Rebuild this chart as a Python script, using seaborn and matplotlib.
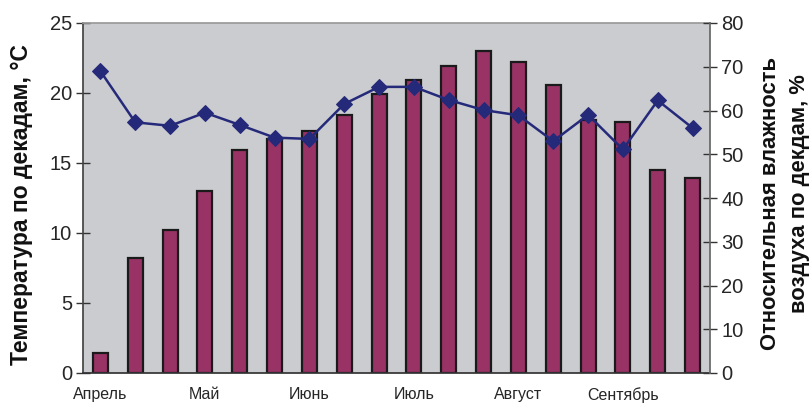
import numpy as np
import pandas as pd
import matplotlib
matplotlib.use("Agg")
import matplotlib.pyplot as plt
import seaborn as sns

# Decade (10-day) averages, April through September
decades = list(range(18))
temperature = [1.4, 8.2, 10.2, 13.0, 15.9, 16.7, 17.3, 18.4, 19.9,
               20.9, 21.9, 23.0, 22.2, 20.6, 18.1, 17.9, 14.5, 13.9]
humidity = [69.0, 57.3, 56.5, 59.5, 56.7, 53.8, 53.5, 61.5, 65.4,
            65.4, 62.4, 60.1, 58.9, 53.0, 59.0, 51.1, 62.3, 56.0]
months = ["Апрель", "Май", "Июнь", "Июль", "Август", "Сентябрь"]
month_pos = [0, 3, 6, 9, 12, 15]

df = pd.DataFrame({"decade": decades, "temp": temperature, "hum": humidity})

sns.set_theme(style="white")
plt.rcParams["font.family"] = ["Liberation Sans", "DejaVu Sans"]

W, H = 810, 408
fig = plt.figure(figsize=(W / 100, H / 100), dpi=100)
ax = fig.add_axes([83 / W, 1 - 373 / H, 627 / W, 350 / H])
ax.set_facecolor("#CBCCCF")

sns.barplot(data=df, x="decade", y="temp", ax=ax, color="#993366",
            width=0.43, edgecolor="#1A1A1A", linewidth=1.6, saturation=1)

ax.set_xlim(-0.5, 17.5)
ax.set_ylim(0, 25)
ax.set_yticks([0, 5, 10, 15, 20, 25])
ax.set_xticks(np.arange(-0.5, 18, 1))
ax.set_xticklabels([])
ax.set_xticks(month_pos, minor=True)
ax.set_xticklabels(months, minor=True, fontsize=11.5)
ax.tick_params(axis="x", which="major", direction="inout", length=7, width=1, color="#333333")
ax.tick_params(axis="x", which="minor", length=0, pad=10)
ax.tick_params(axis="y", direction="inout", length=10, width=1, color="#333333",
               labelsize=14.5, pad=3)
ax.set_xlabel("")
ax.set_ylabel("")

ax.spines["top"].set_color("#9A9A9A")
ax.spines["left"].set_color("#444444")
ax.spines["bottom"].set_color("#333333")
ax.spines["right"].set_visible(False)

ax2 = ax.twinx()
sns.lineplot(data=df, x="decade", y="hum", ax=ax2, color="#25297A",
             marker="D", markersize=8, markeredgecolor="#25297A", linewidth=1.8)
ax2.set_ylim(0, 80)
ax2.set_yticks(range(0, 81, 10))
ax2.set_xlim(-0.5, 17.5)
ax2.tick_params(axis="y", direction="inout", length=10, width=1, color="#333333",
                labelsize=14.5, pad=3, right=True)
ax2.set_ylabel("")
ax2.spines["top"].set_visible(False)
ax2.spines["left"].set_visible(False)
ax2.spines["bottom"].set_visible(False)
ax2.spines["right"].set_color("#666666")

# Axis titles
fig.text(22 / W, 1 - 205 / H, "Температура по декадам, °С", rotation=90,
         ha="center", va="center", fontsize=16.5, fontweight="bold", color="#111111")
fig.text(771 / W, 1 - 203 / H, "Относительная влажность", rotation=90,
         ha="center", va="center", fontsize=15.8, fontweight="bold", color="#111111")
fig.text(800 / W, 1 - 194 / H, "воздуха по декдам, %", rotation=90,
         ha="center", va="center", fontsize=15.8, fontweight="bold", color="#111111")

fig.savefig("out.png", dpi=100)
